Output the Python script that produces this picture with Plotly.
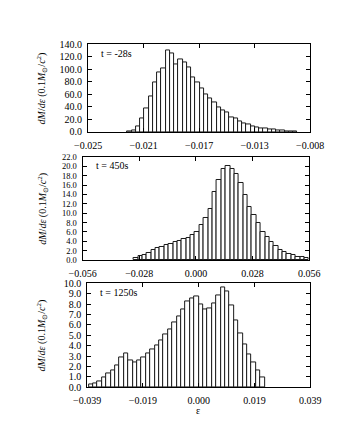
import numpy as np
import plotly.graph_objects as go

# ---------------- data ----------------
# panel 1 : t = -28 s
p1_label = "t = -28s"
p1_bin_start = -0.02198
p1_bin_width = 0.000325
p1_values = [0.5, 3, 9, 22, 38, 57, 79, 96, 101, 131,
             125, 108, 116, 112, 103, 88, 79, 70, 60.6, 53,
             46.7, 39, 35, 31, 24, 21, 17, 14, 12, 9.3,
             7.8, 6.2, 5.2, 4.1, 3.6, 2.6, 2.0, 1.6, 1.5, 1.0]
p1_xrange = [-0.025, -0.008]
p1_xticktext = ["\u22120.025", "\u22120.021", "\u22120.017", "\u22120.013", "\u22120.008"]
p1_yrange = [0, 140]
p1_ydtick = 20

# panel 2 : t = 450 s
p2_label = "t = 450s"
p2_bin_start = -0.0307
p2_bin_width = 0.002163
p2_values = [0.5, 0.8, 1.1, 1.6, 2.1, 2.5, 2.85, 3.2, 3.5, 3.8,
             4.0, 4.4, 4.8, 5.3, 6.0, 7.4, 8.9, 10.9, 14.5, 17.2,
             19.5, 20.1, 19.4, 18.3, 16.5, 13.8, 11.3, 9.7, 8.0, 6.0,
             5.0, 3.9, 3.0, 2.2, 1.7, 1.3, 1.0, 0.76, 0.6, 0.4]
p2_xrange = [-0.056, 0.056]
p2_xticktext = ["\u22120.056", "\u22120.028", "0.000", "0.028", "0.056"]
p2_yrange = [0, 22]
p2_ydtick = 2

# panel 3 : t = 1250 s
p3_label = "t = 1250s"
p3_bin_start = -0.03845
p3_bin_width = 0.00154
p3_values = [0.25, 0.4, 0.6, 0.9, 1.3, 1.65, 2.1, 2.9, 3.25, 2.6,
             2.4, 2.6, 2.85, 3.25, 3.6, 4.05, 4.55, 5.1, 5.55, 6.25,
             6.8, 7.5, 8.25, 8.55, 8.7, 8.0, 7.5, 7.6, 8.1, 8.8,
             9.6, 9.2, 7.9, 6.45, 5.2, 4.15, 3.2, 2.35, 1.66, 0.9]
p3_xrange = [-0.039, 0.039]
p3_xticktext = ["\u22120.039", "\u22120.019", "0.000", "0.019", "0.039"]
p3_yrange = [0, 10]
p3_ydtick = 1

x_title = "\u03b5"
y_title = "<i>dM</i>/<i>d\u03b5</i> (0.1<i>M</i><sub>\u2299</sub>/<i>c</i><sup>2</sup>)"

# ---------------- figure ----------------
W, H = 340, 440
OFF = 8  # page body margin of the html page
FONT = "Liberation Serif"

panels = [
    dict(label=p1_label, start=p1_bin_start, width=p1_bin_width, values=p1_values,
         xrange=p1_xrange, xticktext=p1_xticktext, yrange=p1_yrange, ydtick=p1_ydtick,
         xpx=(80, 322), ypx=(39.3, 129.3), yfs=10),
    dict(label=p2_label, start=p2_bin_start, width=p2_bin_width, values=p2_values,
         xrange=p2_xrange, xticktext=p2_xticktext, yrange=p2_yrange, ydtick=p2_ydtick,
         xpx=(74, 321), ypx=(155, 261), yfs=8.5),
    dict(label=p3_label, start=p3_bin_start, width=p3_bin_width, values=p3_values,
         xrange=p3_xrange, xticktext=p3_xticktext, yrange=p3_yrange, ydtick=p3_ydtick,
         xpx=(79, 322), ypx=(285, 391.7), yfs=10),
]


def px_x(v):
    return (v - OFF) / W


def px_y(v):
    return 1 - (v - OFF) / H


fig = go.Figure()
layout = dict(
    width=W, height=H,
    margin=dict(l=0, r=0, t=0, b=0),
    paper_bgcolor="white", plot_bgcolor="white",
    showlegend=False,
    font=dict(family=FONT, size=10, color="black"),
    bargap=0,
)
annotations = []

for i, p in enumerate(panels, start=1):
    xa = "x" if i == 1 else f"x{i}"
    ya = "y" if i == 1 else f"y{i}"
    n = len(p["values"])
    centers = [p["start"] + (k + 0.5) * p["width"] for k in range(n)]
    fig.add_trace(go.Bar(
        x=centers, y=p["values"], width=[p["width"]] * n,
        marker=dict(color="white", line=dict(color="#1a1a1a", width=1)),
        xaxis=xa, yaxis=ya, hoverinfo="skip",
    ))
    x0, x1 = p["xpx"]
    y0, y1 = p["ypx"]
    tickvals = list(np.linspace(p["xrange"][0], p["xrange"][1], 5))
    axcommon = dict(showgrid=False, zeroline=False, showline=True, linecolor="black",
                    linewidth=1, ticks="inside", ticklen=4, tickwidth=1,
                    tickcolor="black", mirror="allticks")
    layout["xaxis" if i == 1 else f"xaxis{i}"] = dict(
        domain=[px_x(x0), px_x(x1)], anchor=ya, range=p["xrange"],
        tickmode="array", tickvals=tickvals, ticktext=p["xticktext"],
        ticklabelstandoff=4, tickfont=dict(family=FONT, size=10, color="black"),
        **axcommon)
    layout["yaxis" if i == 1 else f"yaxis{i}"] = dict(
        domain=[px_y(y1), px_y(y0)], anchor=xa, range=p["yrange"],
        tick0=0, dtick=p["ydtick"], tickformat=".1f",
        ticklabelstandoff=3, tickfont=dict(family=FONT, size=p["yfs"], color="black"),
        **axcommon)
    annotations.append(dict(
        text=p["label"], xref="paper", yref="paper",
        x=px_x(x0 + 12), y=px_y(y0 + 9), xanchor="left", yanchor="middle",
        showarrow=False, font=dict(family=FONT, size=10, color="black")))
    annotations.append(dict(
        text=y_title, xref="paper", yref="paper",
        x=px_x(30), y=px_y((y0 + y1) / 2), xanchor="center", yanchor="middle",
        textangle=-90, showarrow=False,
        font=dict(family=FONT, size=10, color="black")))

annotations.append(dict(
    text=x_title, xref="paper", yref="paper",
    x=px_x(200), y=px_y(416), xanchor="center", yanchor="middle",
    showarrow=False, font=dict(family=FONT, size=10, color="black")))

layout["annotations"] = annotations
fig.update_layout(**layout)
fig.write_html("out.html")
